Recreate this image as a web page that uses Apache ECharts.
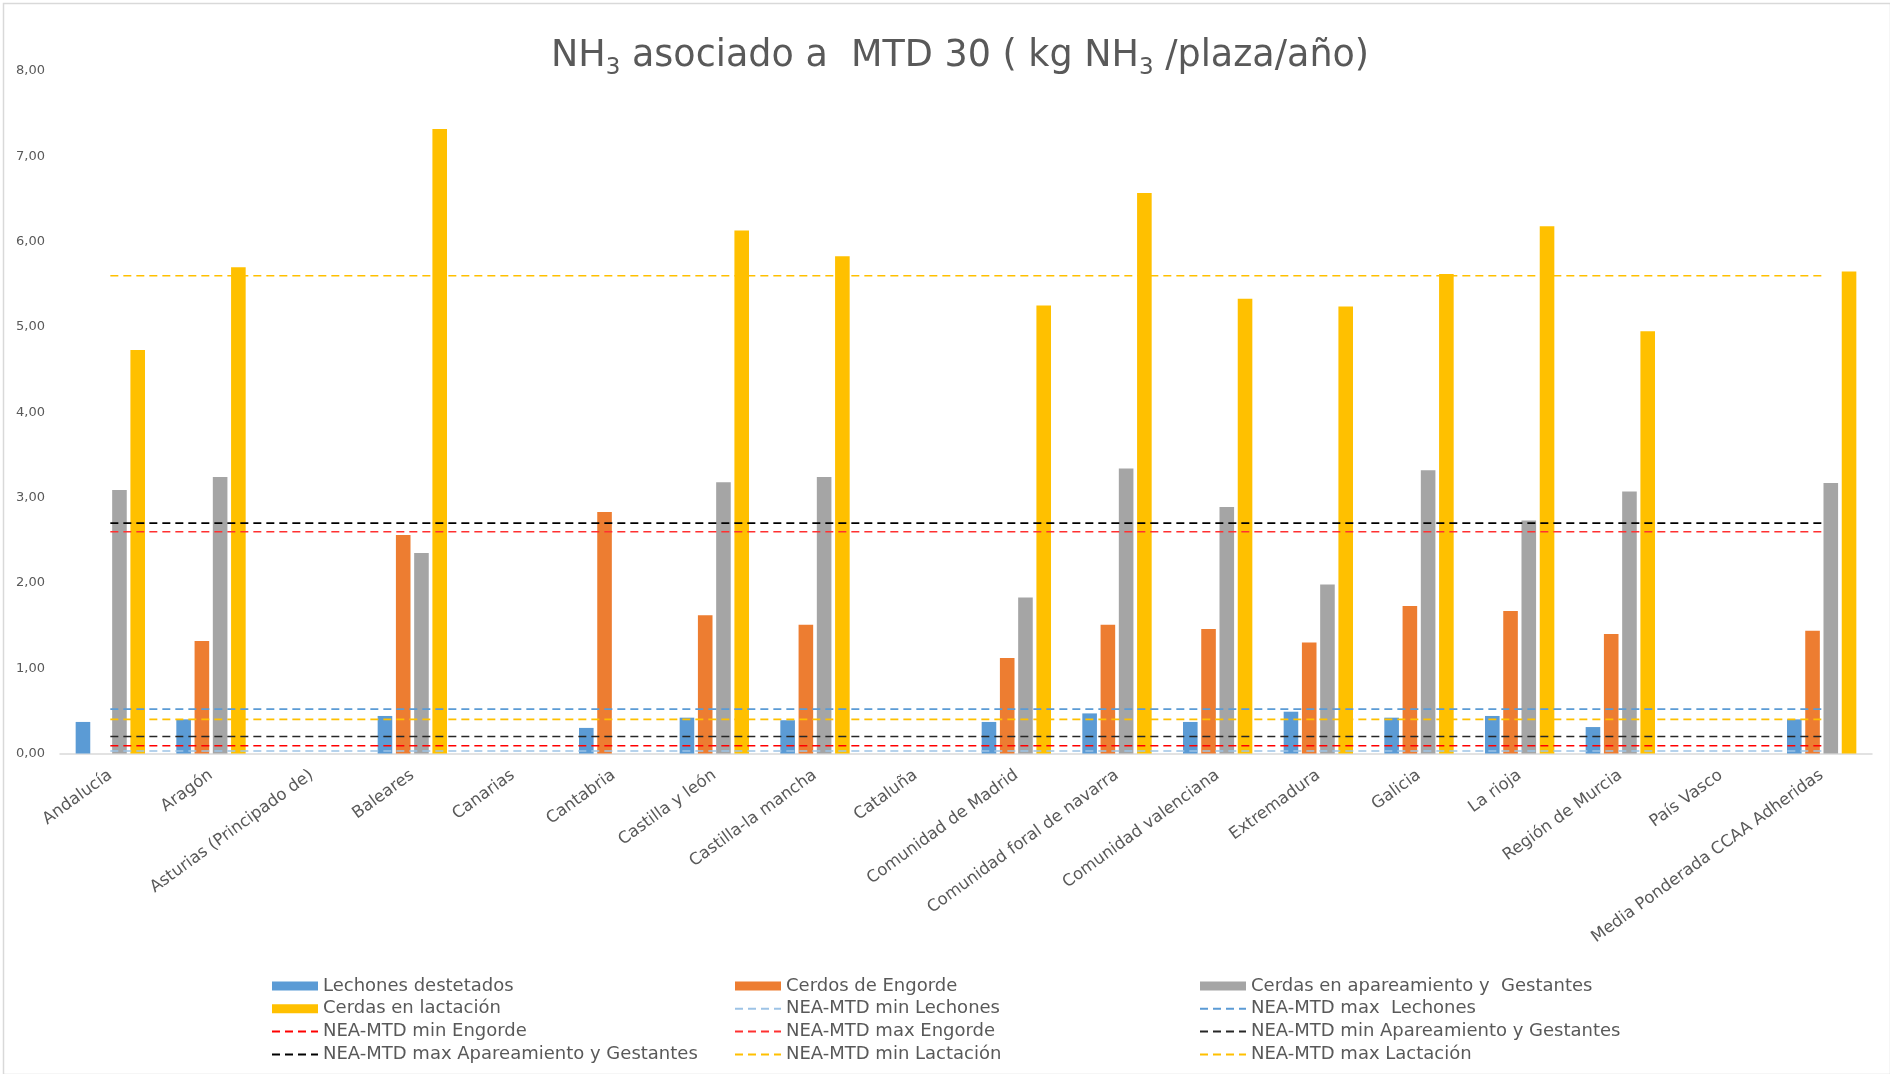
<!DOCTYPE html>
<html><head><meta charset="utf-8">
<script src="https://cdn.jsdelivr.net/npm/echarts@6/dist/echarts.min.js"></script>
<style>html,body{margin:0;padding:0;background:#fff}#c{width:1890px;height:1074px}</style>
</head><body><div id="c"></div>
<script>
const categories = ['Andalucía','Aragón','Asturias (Principado de)','Baleares','Canarias','Cantabria','Castilla y león','Castilla-la mancha','Cataluña','Comunidad de Madrid','Comunidad foral de navarra','Comunidad valenciana','Extremadura','Galicia','La rioja','Región de Murcia','País Vasco','Media Ponderada CCAA Adheridas'];
const lechones  = [0.37,0.40,null,0.44,null,0.30,0.42,0.39,null,0.37,0.47,0.37,0.49,0.42,0.44,0.31,null,0.40];
const engorde   = [null,1.32,null,2.56,null,2.83,1.62,1.51,null,1.12,1.51,1.46,1.30,1.73,1.67,1.40,null,1.44];
const gestantes = [3.09,3.24,null,2.35,null,null,3.18,3.24,null,1.83,3.34,2.89,1.98,3.32,2.73,3.07,null,3.17];
const lactacion = [4.73,5.70,null,7.32,null,null,6.13,5.83,null,5.25,6.57,5.33,5.24,5.62,6.18,4.95,null,5.65];
// NEA-MTD reference levels
const neaMinLechones = 0.03, neaMaxLechones = 0.52;
const neaMinEngorde = 0.09, neaMaxEngorde = 2.60;
const neaMinApar = 0.20, neaMaxApar = 2.70;
const neaMinLact = 0.40, neaMaxLact = 5.60;
const yTicks = [0,1,2,3,4,5,6,7,8];

const FONT = 'DejaVu Sans';
const TXT = '#595959';
const chart = echarts.init(document.getElementById('c'));

const barS = (name, data, color) => ({name, type:'bar', data, barWidth:14.6, barGap:'25%', itemStyle:{color}});
const lineS = (name, value, color) => ({name, type:'line', data: categories.map(() => value), symbol:'none', showSymbol:false,
  lineStyle:{color, width:1.6, type:[8,5]}, itemStyle:{color}, z:3, silent:true});
const barL = n => ({name:n, icon:'rect'});
const lineL = n => ({name:n, itemStyle:{opacity:0}});
const legendBase = {orient:'vertical', itemWidth:46, itemHeight:9, itemGap:4.8, padding:0, top:977, selectedMode:false,
  textStyle:{fontFamily:FONT, fontSize:18, color:TXT, lineHeight:18}};

chart.setOption({
  animation:false,
  backgroundColor:'#fff',
  title:{
    text:'{m|NH}{s|3}{m| asociado a  MTD 30 ( kg NH}{s|3}{m| /plaza/año)}',
    left:551, top:34, padding:0,
    textStyle:{fontWeight:'normal', rich:{
      m:{fontFamily:FONT, fontSize:36.5, fontWeight:'normal', lineHeight:46, verticalAlign:'middle', color:TXT},
      s:{fontFamily:FONT, fontSize:23, fontWeight:'normal', lineHeight:28, verticalAlign:'bottom', color:TXT}
    }}
  },
  graphic:[{type:'rect', left:1, top:1, shape:{width:1887, height:1071}, style:{fill:'none', stroke:'#d9d9d9', lineWidth:1.5}, silent:true}],
  grid:{left:60, right:18, top:71, height:682.5, containLabel:false},
  legend:[
    Object.assign({}, legendBase, {left:271, data:[barL('Lechones destetados'), barL('Cerdas en lactación'), lineL('NEA-MTD min Engorde'), lineL('NEA-MTD max Apareamiento y Gestantes')]}),
    Object.assign({}, legendBase, {left:734, data:[barL('Cerdos de Engorde'), lineL('NEA-MTD min Lechones'), lineL('NEA-MTD max Engorde'), lineL('NEA-MTD min Lactación')]}),
    Object.assign({}, legendBase, {left:1199, data:[barL('Cerdas en apareamiento y  Gestantes'), lineL('NEA-MTD max  Lechones'), lineL('NEA-MTD min Apareamiento y Gestantes'), lineL('NEA-MTD max Lactación')]})
  ],
  xAxis:{type:'category', data:categories,
    axisTick:{show:false}, axisLine:{lineStyle:{color:'#d9d9d9', width:1.5}},
    axisLabel:{interval:0, rotate:36, margin:20, fontFamily:FONT, fontSize:16.5, color:TXT}},
  yAxis:{type:'value', min:yTicks[0], max:yTicks[yTicks.length-1], interval:1,
    splitLine:{show:false}, axisLine:{show:false}, axisTick:{show:false},
    axisLabel:{margin:15, fontFamily:FONT, fontSize:13, color:TXT, formatter:v => v.toFixed(2).replace('.', ',')}},
  series:[
    barS('Lechones destetados', lechones, '#5B9BD5'),
    barS('Cerdos de Engorde', engorde, '#ED7D31'),
    barS('Cerdas en apareamiento y  Gestantes', gestantes, '#A5A5A5'),
    barS('Cerdas en lactación', lactacion, '#FFC000'),
    lineS('NEA-MTD min Lechones', neaMinLechones, '#9DC3E6'),
    lineS('NEA-MTD max  Lechones', neaMaxLechones, '#5B9BD5'),
    lineS('NEA-MTD min Engorde', neaMinEngorde, '#FF0000'),
    lineS('NEA-MTD max Engorde', neaMaxEngorde, '#FF3030'),
    lineS('NEA-MTD min Apareamiento y Gestantes', neaMinApar, '#262626'),
    lineS('NEA-MTD max Apareamiento y Gestantes', neaMaxApar, '#000000'),
    lineS('NEA-MTD min Lactación', neaMinLact, '#FFC000'),
    lineS('NEA-MTD max Lactación', neaMaxLact, '#FFC000')
  ]
});
</script></body></html>
